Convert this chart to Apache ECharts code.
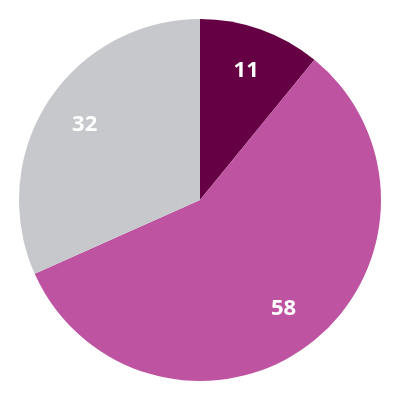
<!DOCTYPE html>
<html><head><meta charset="utf-8">
<script src="https://cdn.jsdelivr.net/npm/echarts@6/dist/echarts.min.js"></script>
<style>html,body{margin:0;padding:0;background:#fff}#c{width:400px;height:400px}</style>
</head><body><div id="c"></div>
<script>
const categories = ['A', 'B', 'C'];
const values = [11, 58, 32];
const colors = ['#660044', '#BD53A1', '#C6C8CC'];

const data = categories.map((c, i) => ({ name: c, value: values[i], itemStyle: { color: colors[i] } }));
const labelData = categories.map((c, i) => ({ name: c, value: values[i], itemStyle: { color: 'rgba(0,0,0,0)' } }));

const chart = echarts.init(document.getElementById('c'), null, { renderer: 'canvas' });
chart.setOption({
  animation: false,
  series: [
    {
      type: 'pie', center: [200, 200], radius: [0, 181], startAngle: 90, clockwise: true,
      silent: true, label: { show: false }, labelLine: { show: false },
      itemStyle: { borderWidth: 0 }, data: data
    },
    {
      type: 'pie', center: [200, 200], radius: [88, 181], startAngle: 90, clockwise: true,
      silent: true, labelLine: { show: false },
      itemStyle: { borderWidth: 0 },
      label: { show: true, position: 'inside', formatter: '{c}', color: '#fff',
        fontSize: 22, fontWeight: 'bold', fontFamily: 'Open Sans' },
      data: labelData
    }
  ]
});
</script></body></html>
